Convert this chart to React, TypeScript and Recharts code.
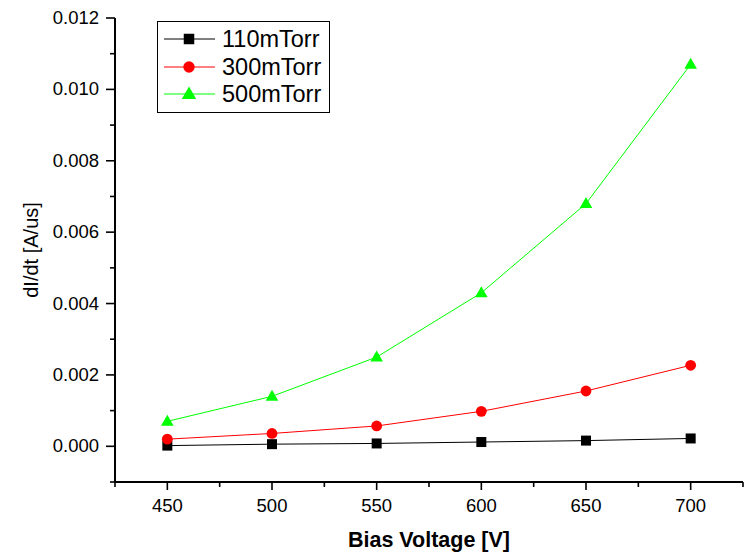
import React from 'react';
import { LineChart, Line, XAxis, YAxis, Legend, Label } from 'recharts';

const voltages = [450, 500, 550, 600, 650, 700];
const torr110 = [0.00002, 0.00006, 0.00008, 0.00012, 0.00016, 0.00022];
const torr300 = [0.0002, 0.00036, 0.00057, 0.00098, 0.00155, 0.00227];
const torr500 = [0.0007, 0.0014, 0.0025, 0.0043, 0.0068, 0.0107];

const xTicks = [425, 450, 475, 500, 525, 550, 575, 600, 625, 650, 675, 700, 725];
const yTicks = [-0.001, 0, 0.001, 0.002, 0.003, 0.004, 0.005, 0.006, 0.007, 0.008, 0.009, 0.01, 0.011, 0.012];

const seriesNames = ['110mTorr', '300mTorr', '500mTorr'];
const seriesColors = ['#000000', '#ff0000', '#00ff00'];
const seriesShapes = ['square', 'circle', 'triangle'];

const data = voltages.map((v, i) => ({
  v,
  s110: torr110[i],
  s300: torr300[i],
  s500: torr500[i],
}));

const FONT = '"Liberation Sans", Arial, Helvetica, sans-serif';

function MarkerShape({ shape, cx, cy, color, scale = 1 }: any) {
  if (shape === 'square') {
    const s = 10 * scale;
    return <rect x={cx - s / 2} y={cy - s / 2} width={s} height={s} fill={color} />;
  }
  if (shape === 'circle') {
    return <circle cx={cx} cy={cy} r={5.4 * scale} fill={color} />;
  }
  const w = 12.6 * scale;
  const h = 11 * scale;
  return (
    <polygon
      points={`${cx},${cy - h * 0.6} ${cx - w / 2},${cy + h * 0.4} ${cx + w / 2},${cy + h * 0.4}`}
      fill={color}
    />
  );
}

const makeDot = (shape: string, color: string) => (props: any) => {
  const { cx, cy, index } = props;
  if (cx == null || cy == null) return <g key={`d-${shape}-${index}`} />;
  return (
    <g key={`d-${shape}-${index}`}>
      <MarkerShape shape={shape} cx={cx} cy={cy} color={color} />
    </g>
  );
};

const XTick = (props: any) => {
  const { x, y, payload } = props;
  const v = payload.value;
  const major = Math.round(v) % 50 === 0;
  return (
    <g>
      <line x1={x} y1={y} x2={x} y2={y + (major ? 8 : 5)} stroke="#000" strokeWidth={1.6} />
      {major && (
        <text x={x} y={y + 30} textAnchor="middle" fontFamily={FONT} fontSize={18.5} fill="#000">
          {v}
        </text>
      )}
    </g>
  );
};

const YTick = (props: any) => {
  const { x, y, payload } = props;
  const v = payload.value;
  const k = Math.round(v * 1000);
  const major = k % 2 === 0;
  return (
    <g>
      <line x1={x} y1={y} x2={x - (major ? 9 : 5)} y2={y} stroke="#000" strokeWidth={1.6} />
      {major && (
        <text x={x - 16} y={y} dy="0.33em" textAnchor="end" fontFamily={FONT} fontSize={18.5} fill="#000">
          {v.toFixed(3)}
        </text>
      )}
    </g>
  );
};

const LegendBox = () => {
  const rowY = [18, 46, 73];
  return (
    <svg width={173} height={92} style={{ display: 'block' }}>
      <rect x={0.5} y={0.5} width={172} height={91} fill="#fff" stroke="#000" strokeWidth={1} />
      {seriesNames.map((n, i) => (
        <g key={n}>
          <line x1={7} y1={rowY[i]} x2={58} y2={rowY[i]} stroke={seriesColors[i]} strokeWidth={1} />
          <MarkerShape shape={seriesShapes[i]} cx={32} cy={rowY[i]} color={seriesColors[i]} scale={i === 2 ? 1.15 : 1.05} />
          <text x={65} y={rowY[i]} dy="0.36em" fontFamily={FONT} fontSize={23.5} fill="#000">
            {n}
          </text>
        </g>
      ))}
    </svg>
  );
};

export default function App() {
  return (
    <div style={{ position: 'absolute', left: 0, top: 0, width: 746, height: 552, background: '#fff' }}>
      <LineChart width={746} height={552} data={data} margin={{ top: 18, right: 3, left: 0, bottom: 0 }}>
        <XAxis
          dataKey="v"
          type="number"
          domain={[425, 725]}
          ticks={xTicks}
          interval={0}
          tickSize={0}
          tickMargin={0}
          height={70}
          axisLine={{ stroke: '#000', strokeWidth: 2 }}
          tick={<XTick />}
          allowDataOverflow
        >
          <Label
            content={(p: any) => {
              const vb = p.viewBox;
              return (
                <text
                  x={vb.x + vb.width / 2}
                  y={547}
                  textAnchor="middle"
                  fontFamily={FONT}
                  fontSize={21.5}
                  fontWeight="bold"
                  fill="#000"
                >
                  Bias Voltage [V]
                </text>
              );
            }}
          />
        </XAxis>
        <YAxis
          type="number"
          domain={[-0.001, 0.012]}
          ticks={yTicks}
          interval={0}
          tickSize={0}
          tickMargin={0}
          width={115}
          axisLine={{ stroke: '#000', strokeWidth: 2 }}
          tick={<YTick />}
          allowDataOverflow
        >
          <Label
            content={(p: any) => {
              const vb = p.viewBox;
              const cy = vb.y + vb.height / 2;
              return (
                <text
                  x={38}
                  y={cy}
                  transform={`rotate(-90, 38, ${cy})`}
                  textAnchor="middle"
                  fontFamily={FONT}
                  fontSize={20}
                  fill="#000"
                >
                  dI/dt [A/us]
                </text>
              );
            }}
          />
        </YAxis>
        <Legend
          layout="vertical"
          align="center"
          verticalAlign="middle"
          content={() => <LegendBox />}
          wrapperStyle={{ left: 157, top: 21, width: 173, height: 92 }}
        />
        <Line
          dataKey="s110"
          name={seriesNames[0]}
          stroke={seriesColors[0]}
          strokeWidth={1}
          dot={makeDot('square', seriesColors[0])}
          activeDot={false}
          isAnimationActive={false}
        />
        <Line
          dataKey="s300"
          name={seriesNames[1]}
          stroke={seriesColors[1]}
          strokeWidth={1}
          dot={makeDot('circle', seriesColors[1])}
          activeDot={false}
          isAnimationActive={false}
        />
        <Line
          dataKey="s500"
          name={seriesNames[2]}
          stroke={seriesColors[2]}
          strokeWidth={1}
          dot={makeDot('triangle', seriesColors[2])}
          activeDot={false}
          isAnimationActive={false}
        />
      </LineChart>
    </div>
  );
}
